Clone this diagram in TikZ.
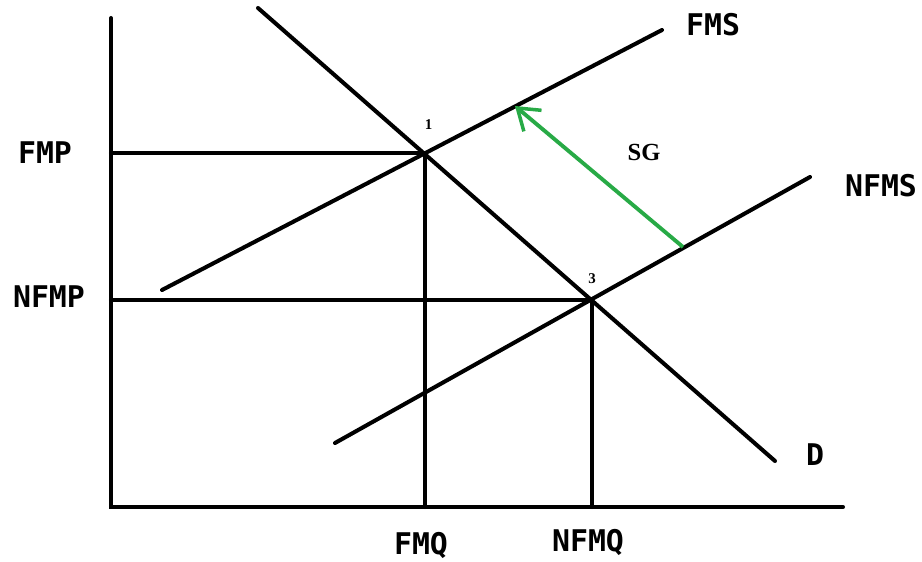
\documentclass[tikz,border=0pt]{standalone}
\usepackage{fontspec}
\setmainfont{Liberation Serif}
\setmonofont{DejaVu Sans Mono}
\usepackage{tikz}
\usetikzlibrary{positioning,arrows.meta}
\usepackage{xcolor}
\definecolor{SGGreen}{RGB}{40,170,70}

\begin{document}
\begin{tikzpicture}[
    x=0.02cm, y=-0.02cm,
    curve/.style={line width=2.3pt, line cap=round},
    axislabel/.style={font=\ttfamily\bfseries\fontsize{17}{17}\selectfont, inner sep=0pt},
    pointlabel/.style={font=\fontsize{8.5}{8.5}\selectfont\bfseries, inner sep=1pt},
    sgarrow/.style={-{Straight Barb[length=4mm, width=5.5mm, line width=2pt]}, line width=2.2pt, color=SGGreen}
]
\useasboundingbox (0,0) rectangle (922,561);
% axes
\coordinate (origin) at (111,507);
\coordinate (ytop) at (111,18);
\coordinate (xend) at (843,507);
\draw[curve] (ytop) -- (origin) -- (xend);
% equilibria
\coordinate (e1) at (425,153);
\coordinate (e3) at (592,300);
\coordinate (fmp) at (111,153);
\coordinate (nfmp) at (111,300);
\coordinate (fmq) at (425,507);
\coordinate (nfmq) at (592,507);
\draw[curve] (fmp) -- (e1) -- (fmq);
\draw[curve] (nfmp) -- (e3) -- (nfmq);
% curves
\coordinate (d0) at (258,8);
\coordinate (d1) at (775,461);
\coordinate (fms0) at (162,290);
\coordinate (fms1) at (662,30);
\coordinate (nfms0) at (335,443);
\coordinate (nfms1) at (810,177);
\draw[curve] (d0) -- (d1);
\draw[curve] (fms0) -- (fms1);
\draw[curve] (nfms0) -- (nfms1);
% subsidy shift
\coordinate (sgtail) at (683,247);
\coordinate (sghead) at (515,106);
\draw[sgarrow] (sgtail) -- (sghead);
\node at (644,152) (sg) {\fontsize{14}{14}\selectfont\bfseries SG};
% labels
\node[pointlabel, above=12pt of e1, xshift=2pt] (p1) {1};
\node[pointlabel, above=8pt of e3] (p3) {3};
\node[axislabel] at (45,153) (lfmp) {FMP};
\node[axislabel] at (49,297) (lnfmp) {NFMP};
\node[axislabel] at (421,545) (lfmq) {FMQ};
\node[axislabel] at (588,542) (lnfmq) {NFMQ};
\node[axislabel] at (713,25) (lfms) {FMS};
\node[axislabel] at (881,186) (lnfms) {NFMS};
\node[axislabel] at (815,455) (ld) {D};
\end{tikzpicture}
\end{document}
